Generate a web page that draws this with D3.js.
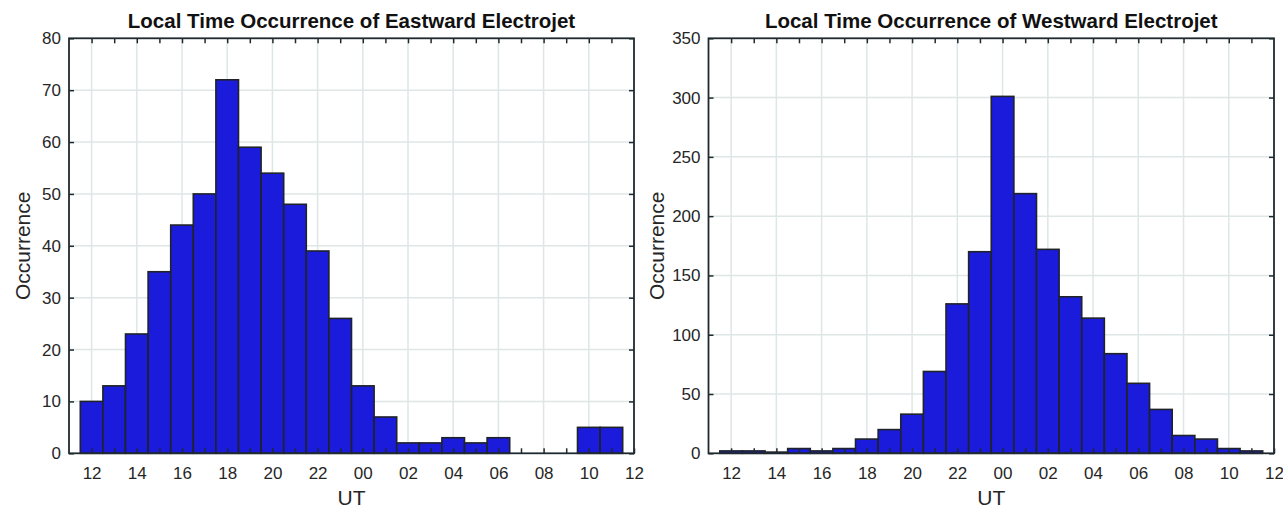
<!DOCTYPE html>
<html>
<head>
<meta charset="utf-8">
<script src="https://cdn.jsdelivr.net/npm/d3@7"></script>
<style>
  body { margin: 0; background: #fff; }
  svg text { font-family: "Liberation Sans", Arial, Helvetica, sans-serif; }
</style>
</head>
<body>
<svg id="chart" width="1283" height="508"></svg>
<script>
// hour bins, 12 UT through 11 UT of the next day
var hours = d3.range(12, 36);
var xTickHours = d3.range(12, 37, 2);

var eastwardCounts = [10, 13, 23, 35, 44, 50, 72, 59, 54, 48, 39, 26,
                      13, 7, 2, 2, 3, 2, 3, 0, 0, 0, 5, 5];
var westwardCounts = [2, 2, 1, 4, 2, 4, 12, 20, 33, 69, 126, 170,
                      301, 219, 172, 132, 114, 84, 59, 37, 15, 12, 4, 2];

var eastwardYTicks = [0, 10, 20, 30, 40, 50, 60, 70, 80];
var westwardYTicks = [0, 50, 100, 150, 200, 250, 300, 350];

var svg = d3.select("#chart");
svg.append("rect").attr("width", 1283).attr("height", 508).attr("fill", "#fff");

var plotTop = 38.3, plotBottom = 453.3;

function drawPanel(title, counts, yTicks, left, right, yLabelOffset) {
    var g = svg.append("g");
    var x = d3.scaleLinear().domain([11, 36]).range([left, right]);
    var y = d3.scaleLinear().domain([0, yTicks[yTicks.length - 1]]).range([plotBottom, plotTop]);

    // grid
    g.append("g").selectAll("line")
        .data(xTickHours.slice(0, -1))
        .join("line")
        .attr("x1", d => x(d)).attr("x2", d => x(d))
        .attr("y1", plotTop).attr("y2", plotBottom)
        .attr("stroke", "#dfe6e6").attr("stroke-width", 1.5);
    g.append("g").selectAll("line")
        .data(yTicks.slice(1, -1))
        .join("line")
        .attr("x1", left).attr("x2", right)
        .attr("y1", d => y(d)).attr("y2", d => y(d))
        .attr("stroke", "#dfe6e6").attr("stroke-width", 1.5);

    // bars
    g.append("g").selectAll("rect")
        .data(counts)
        .join("rect")
        .attr("x", (d, i) => x(hours[i] - 0.5))
        .attr("width", (d, i) => x(hours[i] + 0.5) - x(hours[i] - 0.5))
        .attr("y", d => y(d))
        .attr("height", d => plotBottom - y(d))
        .attr("fill", "#1b1bdc")
        .attr("stroke", "#1f2328")
        .attr("stroke-width", 1.6);

    var fmt = function (d) { return d % 2 ? "" : String(d % 24).padStart(2, "0"); };

    var axes = [
        g.append("g").attr("transform", "translate(0," + plotBottom + ")")
            .call(d3.axisBottom(x).tickValues(d3.range(12, 37)).tickFormat(fmt).tickSize(-5).tickPadding(14)),
        g.append("g").attr("transform", "translate(0," + plotTop + ")")
            .call(d3.axisTop(x).tickValues(d3.range(12, 36)).tickFormat("").tickSize(-5)),
        g.append("g").attr("transform", "translate(" + left + ",0)")
            .call(d3.axisLeft(y).tickValues(yTicks).tickSize(-5).tickPadding(8)),
        g.append("g").attr("transform", "translate(" + right + ",0)")
            .call(d3.axisRight(y).tickValues(yTicks).tickFormat("").tickSize(-5))
    ];
    axes.forEach(function (a) {
        a.select(".domain").remove();
        a.selectAll(".tick line").attr("stroke", "#1f2a30").attr("stroke-width", 1.5);
        a.selectAll(".tick text").attr("fill", "#262626").style("font-size", "17px");
    });

    // box
    g.append("rect")
        .attr("x", left).attr("y", plotTop)
        .attr("width", right - left).attr("height", plotBottom - plotTop)
        .attr("fill", "none").attr("stroke", "#1f2a30").attr("stroke-width", 1.8);

    var cx = (left + right) / 2;
    g.append("text")
        .attr("x", cx).attr("y", 28)
        .attr("text-anchor", "middle")
        .style("font-size", "20.5px").style("font-weight", "bold")
        .attr("fill", "#111")
        .text(title);
    g.append("text")
        .attr("x", cx).attr("y", 505)
        .attr("text-anchor", "middle")
        .style("font-size", "21px")
        .attr("fill", "#262626")
        .text("UT");
    g.append("text")
        .attr("transform", "translate(" + (left - yLabelOffset) + "," + ((plotTop + plotBottom) / 2) + ") rotate(-90)")
        .attr("text-anchor", "middle")
        .style("font-size", "21px")
        .attr("fill", "#262626")
        .text("Occurrence");
}

drawPanel("Local Time Occurrence of Eastward Electrojet", eastwardCounts, eastwardYTicks, 69, 634, 39);
drawPanel("Local Time Occurrence of Westward Electrojet", westwardCounts, westwardYTicks, 708.5, 1274, 45);
</script>
</body>
</html>
